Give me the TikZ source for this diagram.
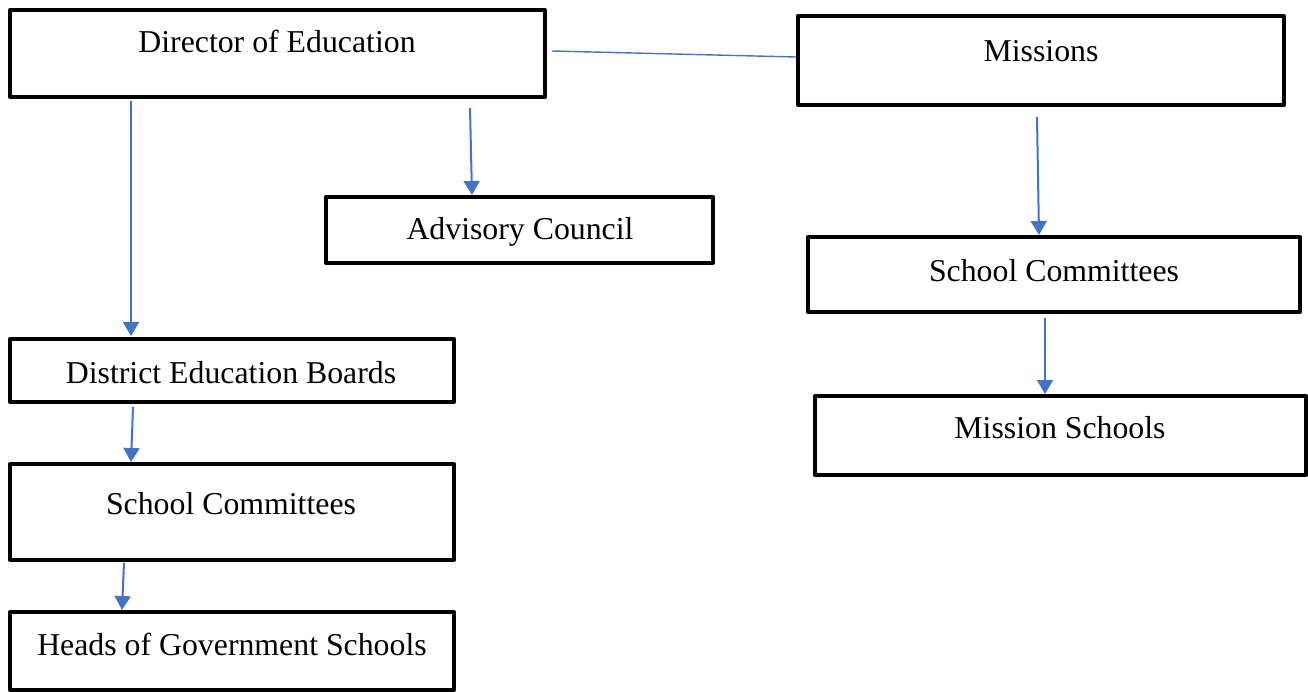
\documentclass[tikz,border=0pt]{standalone}
\usepackage{fontspec}
\setmainfont{Liberation Serif}
\usetikzlibrary{arrows.meta,calc}
\definecolor{arrblue}{HTML}{4472C4}
\begin{document}
\begin{tikzpicture}[x=1pt,y=-1pt,
  box/.style={draw=black,line width=4pt,line join=round,inner sep=0pt,fill=none},
  lbl/.style={anchor=base,inner sep=0pt,font=\fontsize{31.8}{38}\selectfont},
  arr/.style={draw=arrblue,line width=2pt,-{Triangle[width=16pt,length=14pt]}},
  conn/.style={draw=arrblue,line width=1.4pt}]
\useasboundingbox (0,0) rectangle (1308,692);
% boxes
\node[box,minimum width=535pt,minimum height=87pt] (dir) at (277.5,53.5) {};
\node[box,minimum width=486pt,minimum height=89pt] (mis) at (1041,60.5) {};
\node[box,minimum width=387pt,minimum height=66pt] (adv) at (519.5,230) {};
\node[box,minimum width=492pt,minimum height=75pt] (scr) at (1054,274.5) {};
\node[box,minimum width=491pt,minimum height=79pt] (ms) at (1060.5,435.5) {};
\node[box,minimum width=444pt,minimum height=63pt] (deb) at (232,370.5) {};
\node[box,minimum width=444pt,minimum height=96pt] (scl) at (232,512) {};
\node[box,minimum width=444pt,minimum height=78pt] (heads) at (232,651) {};
% labels
\node[lbl] (tdir) at (277,53) {Director of Education};
\node[lbl] (tmis) at (1041,62) {Missions};
\node[lbl] (tadv) at (520,240) {Advisory Council};
\node[lbl] (tscr) at (1054,282) {School Committees};
\node[lbl] (tms) at (1060,438) {Mission Schools};
\node[lbl] (tdeb) at (231,383) {District Education Boards};
\node[lbl] (tscl) at (231,514) {School Committees};
\node[lbl] (theads) at (232,655) {Heads of Government Schools};
% connectors
\coordinate (s1) at (131,101);
\coordinate (s2) at (470,108);
\coordinate (s3) at (1037,117);
\coordinate (s4) at (1045,318);
\coordinate (s5) at (133,407);
\coordinate (s6) at (124,563);
\coordinate (c0) at (552,51);
\draw[arr] (s1) -- ($(deb.north west)+(123,-1)$);
\draw[arr] (s2) -- ($(adv.north west)+(148,0)$);
\draw[arr] (s3) -- ($(scr.north west)+(233,0)$);
\draw[arr] (s4) -- ($(ms.north west)+(232,0)$);
\draw[arr] (s5) -- ($(scl.north west)+(123,0)$);
\draw[arr] (s6) -- ($(heads.north west)+(114,0)$);
\draw[conn] (c0) -- ($(mis.west)+(0,-3.5)$);
\end{tikzpicture}
\end{document}
